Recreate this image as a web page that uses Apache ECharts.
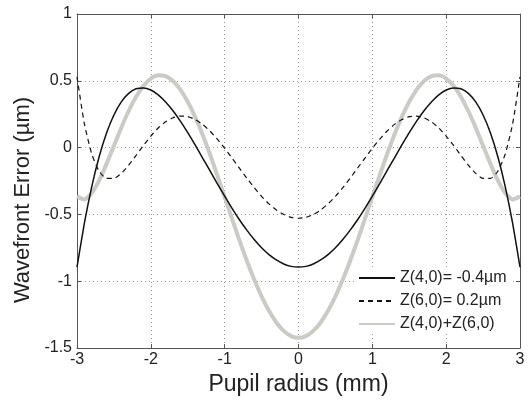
<!DOCTYPE html>
<html>
<head>
<meta charset="utf-8">
<script src="https://cdn.jsdelivr.net/npm/echarts@6/dist/echarts.min.js"></script>
<style>html,body{margin:0;padding:0;background:#fff}#c{width:528px;height:407px}</style>
</head>
<body>
<div id="c"></div>
<script>
var xValues = [-3.0,-2.9,-2.8,-2.7,-2.6,-2.5,-2.4,-2.3,-2.2,-2.1,-2.0,-1.9,-1.8,-1.7,-1.6,-1.5,-1.4,-1.3,-1.2,-1.1,-1.0,-0.9,-0.8,-0.7,-0.6,-0.5,-0.4,-0.3,-0.2,-0.1,0.0,0.1,0.2,0.3,0.4,0.5,0.6,0.7,0.8,0.9,1.0,1.1,1.2,1.3,1.4,1.5,1.6,1.7,1.8,1.9,2.0,2.1,2.2,2.3,2.4,2.5,2.6,2.7,2.8,2.9,3.0];
var z40 = [-0.894,-0.566,-0.292,-0.069,0.109,0.244,0.342,0.406,0.440,0.447,0.431,0.395,0.342,0.276,0.198,0.112,0.020,-0.076,-0.173,-0.270,-0.364,-0.455,-0.540,-0.618,-0.688,-0.750,-0.801,-0.841,-0.871,-0.889,-0.894,-0.889,-0.871,-0.841,-0.801,-0.750,-0.688,-0.618,-0.540,-0.455,-0.364,-0.270,-0.173,-0.076,0.020,0.112,0.198,0.276,0.342,0.395,0.431,0.447,0.440,0.406,0.342,0.244,0.109,-0.069,-0.292,-0.566,-0.894];
var z60 = [0.529,0.178,-0.048,-0.177,-0.231,-0.231,-0.193,-0.132,-0.059,0.016,0.086,0.147,0.193,0.223,0.236,0.232,0.210,0.174,0.124,0.063,-0.005,-0.079,-0.154,-0.229,-0.300,-0.365,-0.421,-0.467,-0.501,-0.522,-0.529,-0.522,-0.501,-0.467,-0.421,-0.365,-0.300,-0.229,-0.154,-0.079,-0.005,0.063,0.124,0.174,0.210,0.232,0.236,0.223,0.193,0.147,0.086,0.016,-0.059,-0.132,-0.193,-0.231,-0.231,-0.177,-0.048,0.178,0.529];
var zSum = [-0.365,-0.388,-0.340,-0.245,-0.122,0.013,0.149,0.274,0.380,0.463,0.517,0.541,0.535,0.499,0.434,0.343,0.230,0.098,-0.049,-0.207,-0.370,-0.533,-0.694,-0.847,-0.988,-1.114,-1.222,-1.309,-1.372,-1.411,-1.424,-1.411,-1.372,-1.309,-1.222,-1.114,-0.988,-0.847,-0.694,-0.533,-0.370,-0.207,-0.049,0.098,0.230,0.343,0.434,0.499,0.535,0.541,0.517,0.463,0.380,0.274,0.149,0.013,-0.122,-0.245,-0.340,-0.388,-0.365];
var seriesNames = ['Z(4,0)= -0.4\u00b5m', 'Z(6,0)= 0.2\u00b5m', 'Z(4,0)+Z(6,0)'];
var xTitle = 'Pupil radius (mm)';
var yTitle = 'Wavefront Error (\u00b5m)';

function pairs(ys){ return xValues.map(function(x,i){ return [x, ys[i]]; }); }

var font = 'Liberation Sans, Arial, sans-serif';
var chart = echarts.init(document.getElementById('c'));
var axisLine = {show:true, onZero:false, lineStyle:{color:'#555', width:1}};
var tick = {show:true, inside:true, length:4, lineStyle:{color:'#555'}};
var gridLine = {show:true, lineStyle:{color:'#999', type:[1,3], width:1}};
chart.setOption({
  animation:false,
  backgroundColor:'#fff',
  grid:{left:77, right:8, top:14, bottom:59, containLabel:false},
  legend:{
    orient:'vertical', left:356, top:268,
    data:seriesNames,
    itemWidth:36, itemHeight:14, itemGap:7,
    backgroundColor:'#fff', padding:[2,6,2,2],
    itemStyle:{opacity:0},
    textStyle:{fontFamily:font, fontSize:16, color:'#222'}
  },
  xAxis:[{
    type:'value', min:-3, max:3, interval:1,
    name:xTitle, nameLocation:'middle', nameGap:24,
    nameTextStyle:{fontFamily:font, fontSize:23, color:'#222'},
    axisLine:axisLine, axisTick:tick,
    axisLabel:{fontFamily:font, fontSize:16, color:'#222', margin:4},
    splitLine:gridLine
  },{
    type:'value', min:-3, max:3, interval:1, position:'top',
    axisLine:axisLine, axisTick:tick, axisLabel:{show:false}, splitLine:{show:false}
  }],
  yAxis:[{
    type:'value', min:-1.5, max:1, interval:0.5,
    name:yTitle, nameLocation:'middle', nameGap:43,
    nameTextStyle:{fontFamily:font, fontSize:22, color:'#222', padding:[0,38,0,0]},
    axisLine:axisLine, axisTick:tick,
    axisLabel:{fontFamily:font, fontSize:16, color:'#222', margin:5},
    splitLine:gridLine
  },{
    type:'value', min:-1.5, max:1, interval:0.5, position:'right',
    axisLine:axisLine, axisTick:tick, axisLabel:{show:false}, splitLine:{show:false}
  }],
  series:[
    {name:seriesNames[2], type:'line', data:pairs(zSum), symbol:'none', smooth:0.2,
     lineStyle:{color:'#cbcbc6', width:4}, itemStyle:{color:'#cbcbc6'}, z:1},
    {name:seriesNames[1], type:'line', data:pairs(z60), symbol:'none', smooth:0.2,
     lineStyle:{color:'#111', width:1.2, type:[5,4]}, itemStyle:{color:'#111'}, z:2},
    {name:seriesNames[0], type:'line', data:pairs(z40), symbol:'none', smooth:0.2,
     lineStyle:{color:'#111', width:1.5}, itemStyle:{color:'#111'}, z:3}
  ]
});
</script>
</body>
</html>
